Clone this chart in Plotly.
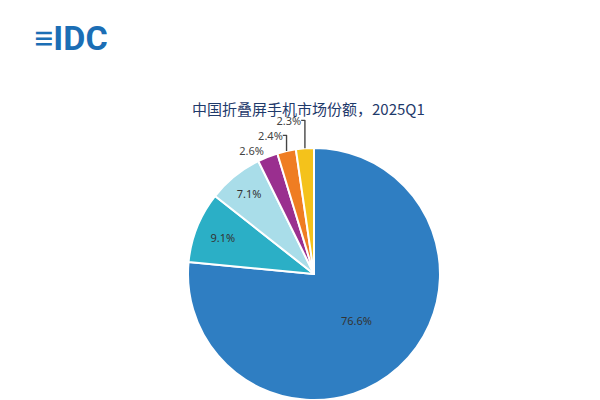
import plotly.graph_objects as go

labels = ["A", "B", "C", "D", "E", "F"]
values = [76.6, 9.1, 7.1, 2.6, 2.4, 2.3]
colors = ["#2F7EC2", "#2BAFC6", "#A9DDE9", "#9A2F8F", "#EF7D22", "#F4C21B"]
text = ["76.6%", "9.1%", "7.1%", "2.6%", "2.4%", "2.3%"]

fig = go.Figure(go.Pie(
    labels=labels, values=values, text=text, textinfo="text",
    sort=False, direction="clockwise", rotation=0,
    marker=dict(colors=colors, line=dict(color="white", width=2)),
    textposition=["inside", "inside", "inside", "outside", "outside", "outside"],
    insidetextorientation="horizontal",
    textfont=dict(family="Noto Sans", size=11, color="#333"),
    outsidetextfont=dict(family="Noto Sans", size=11, color="#444"),
    domain=dict(x=[0.30, 0.72], y=[0.02, 0.65]),
    showlegend=False,
))
fig.update_layout(
    width=600, height=400, margin=dict(l=0, r=0, t=0, b=0, autoexpand=False),
    paper_bgcolor="white",
    annotations=[
        dict(text="中国折叠屏手机市场份额，2025Q1", x=0.5, y=0.78, xref="paper", yref="paper",
             showarrow=False, font=dict(family="Noto Sans CJK SC", size=15, color="#1F3A6B")),
        dict(text="<b>≡IDC</b>", x=0.04, y=0.98, xref="paper", yref="paper", xanchor="left", yanchor="top",
             showarrow=False, font=dict(family="Roboto", size=34, color="#1B6EB5")),
    ],
)
fig.write_html("out.html")
